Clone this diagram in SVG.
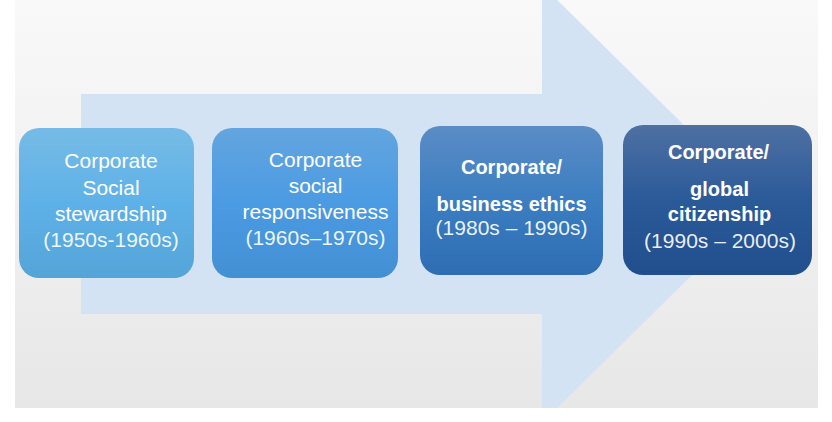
<svg xmlns="http://www.w3.org/2000/svg" width="832" height="422" viewBox="0 0 832 422">
  <defs>
    <linearGradient id="bg" x1="0" y1="0" x2="0" y2="1">
      <stop offset="0" stop-color="#f9f9f9"/>
      <stop offset="1" stop-color="#e7e7e7"/>
    </linearGradient>
    <linearGradient id="g1" x1="0" y1="0" x2="0" y2="1">
      <stop offset="0" stop-color="#76bbe6"/>
      <stop offset="0.5" stop-color="#5eb1e8"/>
      <stop offset="1" stop-color="#54a4d7"/>
    </linearGradient>
    <linearGradient id="g2" x1="0" y1="0" x2="0" y2="1">
      <stop offset="0" stop-color="#63a5df"/>
      <stop offset="0.5" stop-color="#4b9be3"/>
      <stop offset="1" stop-color="#438fd3"/>
    </linearGradient>
    <linearGradient id="g3" x1="0" y1="0" x2="0" y2="1">
      <stop offset="0" stop-color="#5b8cc6"/>
      <stop offset="0.5" stop-color="#3b7ec1"/>
      <stop offset="1" stop-color="#2e6db2"/>
    </linearGradient>
    <linearGradient id="g4" x1="0" y1="0" x2="0" y2="1">
      <stop offset="0" stop-color="#4e70a3"/>
      <stop offset="0.5" stop-color="#2b5a99"/>
      <stop offset="1" stop-color="#214f8e"/>
    </linearGradient>
    <clipPath id="clip">
      <rect x="15" y="0" width="803" height="408"/>
    </clipPath>
  </defs>
  <style>
    .box { stroke: none; }
    .t { font-family: "Liberation Sans", Arial, sans-serif; fill: #ffffff; text-anchor: middle; font-size: 21px; }
    .b { font-weight: bold; font-size: 20px; }
    .p { fill-opacity: 0.92; }
  </style>
  <rect x="15" y="0" width="803" height="408" fill="url(#bg)"/>
  <g id="arrow" clip-path="url(#clip)">
    <polygon points="81,94 542,94 542,-15 764,204 542,423 542,314 81,314" fill="#d3e3f3"/>
  </g>
  <g id="connectors"/>
  <g id="node1">
    <rect class="box" x="19" y="128" width="175" height="150" rx="20" fill="url(#g1)"/>
    <text class="t" x="111" y="168">Corporate</text>
    <text class="t" x="111" y="195">Social</text>
    <text class="t" x="111" y="221">stewardship</text>
    <text class="t p" x="111" y="247">(1950s-1960s)</text>
  </g>
  <g id="node2">
    <rect class="box" x="212" y="128" width="186" height="150" rx="20" fill="url(#g2)"/>
    <text class="t" x="315.5" y="167">Corporate</text>
    <text class="t" x="315.5" y="193">social</text>
    <text class="t" x="315.5" y="219">responsiveness</text>
    <text class="t p" x="315.5" y="245">(1960s–1970s)</text>
  </g>
  <g id="node3">
    <rect class="box" x="420" y="126" width="183" height="149" rx="20" fill="url(#g3)"/>
    <text class="t b" x="511.5" y="174">Corporate/</text>
    <text class="t b" x="511.5" y="211">business ethics</text>
    <text class="t p" x="511.5" y="235">(1980s – 1990s)</text>
  </g>
  <g id="node4">
    <rect class="box" x="623" y="125" width="189" height="150" rx="20" fill="url(#g4)"/>
    <text class="t b" x="718.5" y="159">Corporate/</text>
    <text class="t b" x="719.5" y="196">global</text>
    <text class="t b" x="719.5" y="221">citizenship</text>
    <text class="t p" x="720" y="248">(1990s – 2000s)</text>
  </g>
</svg>
